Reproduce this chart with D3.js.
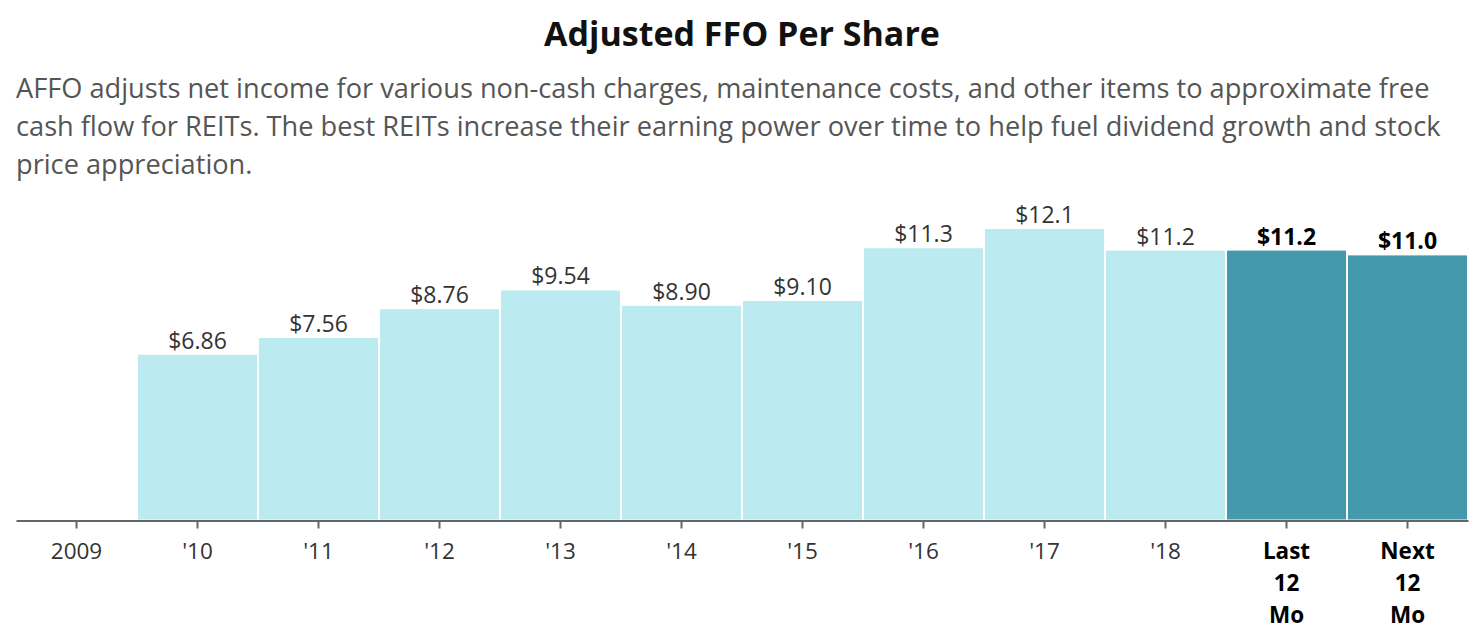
<!DOCTYPE html>
<html>
<head>
<meta charset="utf-8">
<script src="https://cdn.jsdelivr.net/npm/d3@7"></script>
<style>
  body { margin: 0; background: #fff; font-family: "Open Sans", sans-serif; }
</style>
</head>
<body>
<svg id="chart"></svg>
<script>
// chart data
const categories = ["2009", "'10", "'11", "'12", "'13", "'14", "'15", "'16", "'17", "'18", "Last 12 Mo", "Next 12 Mo"];
const values = [null, 6.86, 7.56, 8.76, 9.54, 8.90, 9.10, 11.3, 12.1, 11.2, 11.2, 11.0];
const valueLabels = ["", "$6.86", "$7.56", "$8.76", "$9.54", "$8.90", "$9.10", "$11.3", "$12.1", "$11.2", "$11.2", "$11.0"];
const highlighted = [false, false, false, false, false, false, false, false, false, false, true, true];
const subtitleLines = [
  "AFFO adjusts net income for various non-cash charges, maintenance costs, and other items to approximate free",
  "cash flow for REITs. The best REITs increase their earning power over time to help fuel dividend growth and stock",
  "price appreciation."
];

const W = 1480, H = 640;
const margin = { top: 229, right: 12, bottom: 120, left: 16 };

const svg = d3.select('#chart')
  .attr('width', W)
  .attr('height', H);

// Title and description
svg.append('text')
  .attr('x', 742)
  .attr('y', 46)
  .attr('text-anchor', 'middle')
  .attr('font-size', 34)
  .attr('font-weight', 'bold')
  .attr('fill', '#111')
  .text('Adjusted FFO Per Share');

svg.append('text')
  .attr('font-size', 27.2)
  .attr('fill', '#555')
  .selectAll('tspan')
  .data(subtitleLines)
  .enter().append('tspan')
  .attr('x', 16)
  .attr('y', (d, i) => 98 + i * 38)
  .text(d => d);

// Scales
const x = d3.scaleBand()
  .domain(categories)
  .range([margin.left, W - margin.right])
  .paddingInner(0.016)
  .paddingOuter(0.008);

const y = d3.scaleLinear()
  .domain([0, 12.1])
  .range([H - margin.bottom - 0.5, margin.top]);

const baseY = y(0);

// Bars
const barData = categories.map((c, i) => ({ c, v: values[i], label: valueLabels[i], hi: highlighted[i] }))
  .filter(d => d.v != null);

svg.selectAll('.bar')
  .data(barData)
  .enter().append('rect')
  .attr('class', 'bar')
  .attr('x', d => x(d.c))
  .attr('y', d => y(d.v))
  .attr('width', x.bandwidth())
  .attr('height', d => baseY - y(d.v))
  .attr('fill', d => d.hi ? '#4499AD' : '#BBEAF0');

// Value labels
svg.selectAll('.label')
  .data(barData)
  .enter().append('text')
  .attr('class', 'label')
  .attr('x', d => x(d.c) + x.bandwidth() / 2)
  .attr('y', d => y(d.v) - 6)
  .attr('text-anchor', 'middle')
  .attr('font-size', 23)
  .attr('font-weight', d => d.hi ? 'bold' : 'normal')
  .attr('fill', d => d.hi ? '#000' : '#333')
  .text(d => d.label);

// X axis
const axis = svg.append('g')
  .attr('class', 'x-axis')
  .attr('transform', `translate(0,${baseY + 1})`)
  .call(d3.axisBottom(x).tickSize(8).tickSizeOuter(0).tickPadding(15));

axis.select('.domain').attr('stroke', '#666').attr('stroke-width', 2);
axis.selectAll('.tick line').attr('stroke', '#666').attr('stroke-width', 2);

axis.selectAll('.tick text')
  .attr('font-size', 22.5)
  .attr('font-family', '"Open Sans", sans-serif')
  .attr('fill', '#333')
  .each(function (d, i) {
    const t = d3.select(this);
    const words = d.split(' ');
    if (words.length > 1) {
      t.text(null).attr('font-weight', 'bold').attr('fill', '#000');
      words.forEach((w, j) => {
        t.append('tspan')
          .attr('x', 0)
          .attr('dy', j === 0 ? '0.71em' : '1.41em')
          .text(w);
      });
    }
  });
</script>
</body>
</html>
